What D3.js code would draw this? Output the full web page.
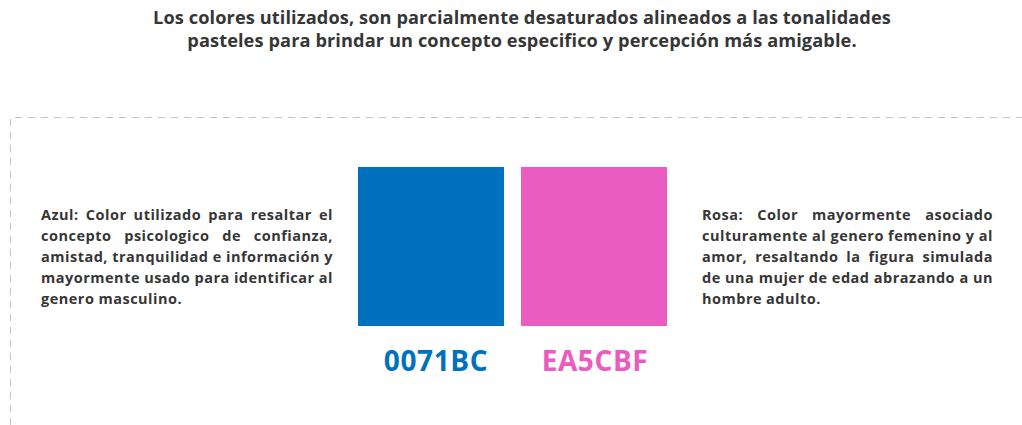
<!DOCTYPE html>
<html>
  <head>
    <meta charset="utf-8">
    <title>Colores utilizados</title>
    <script src="https://d3js.org/d3.v7.min.js"></script>
    <style>
      body { margin: 0; background: #fff; }
      text { font-family: "Open Sans", "Noto Sans", sans-serif; font-weight: 700; }
    </style>
  </head>
  <body>
    <div id="vis"></div>
    <script>
        const width = 1022;
        const height = 425;

        // texts and colours
        const titleLines = [
          "Los colores utilizados, son parcialmente desaturados alineados a las tonalidades",
          "pasteles para brindar un concepto especifico y percepción más amigable."
        ];
        const swatches = ["0071BC", "EA5CBF"];
        const leftLines = [
          "Azul:  Color utilizado para resaltar el",
          "concepto psicologico de confianza,",
          "amistad, tranquilidad e información y",
          "mayormente usado para identificar al",
          "genero masculino."
        ];
        const rightLines = [
          "Rosa: Color mayormente asociado",
          "culturamente al genero femenino y al",
          "amor, resaltando la figura simulada",
          "de una mujer de edad abrazando a un",
          "hombre adulto."
        ];

        const textColor = "#363636";

        let vis = d3.select("#vis")
                    .append("svg")
                    .attr("width", width)
                    .attr("height", height);

        // title
        vis.append("g")
           .selectAll("text")
           .data(titleLines)
           .enter()
           .append("text")
           .attr("x", 522)
           .attr("y", (d, i) => 24 + i * 23)
           .attr("text-anchor", "middle")
           .attr("font-size", 18.2)
           .attr("letter-spacing", 0.1)
           .attr("fill", textColor)
           .text(d => d);

        // dashed frame (top and left edges)
        vis.append("path")
           .attr("d", `M10.5,${height} V117.5 H${width}`)
           .attr("fill", "none")
           .attr("stroke", "#c4c4c4")
           .attr("stroke-width", 1)
           .attr("stroke-dasharray", "7,6");

        // swatches
        const x = d3.scaleBand()
                    .domain(swatches)
                    .range([358, 667])
                    .paddingInner(0.104);

        const y = d3.scaleLinear().domain([0, 1]).range([326, 167]);

        vis.append("g")
           .selectAll("rect")
           .data(swatches)
           .enter()
           .append("rect")
           .attr("x", d => x(d))
           .attr("y", y(1))
           .attr("width", x.bandwidth())
           .attr("height", y(0) - y(1))
           .attr("fill", d => "#" + d);

        vis.append("g")
           .selectAll("text")
           .data(swatches)
           .enter()
           .append("text")
           .attr("x", (d, i) => x(d) + x.bandwidth() / 2 + (i === 0 ? 5 : 1))
           .attr("y", 371)
           .attr("text-anchor", "middle")
           .attr("font-size", 28)
           .attr("letter-spacing", 0.6)
           .attr("fill", d => "#" + d)
           .text(d => d);

        // justified paragraph: every line but the last is spread to the full width
        function paragraph(lines, left, right, top) {
          const g = vis.append("g")
                       .attr("font-size", 14.5)
                       .attr("letter-spacing", 0.5)
                       .attr("fill", textColor);
          const lineHeight = 21;

          lines.forEach((line, i) => {
            const words = line.split(/\s+/);
            const t = g.append("text").attr("y", top + i * lineHeight);
            const spans = words.map(w => t.append("tspan").text(w));
            const widths = spans.map(s => s.node().getComputedTextLength());
            let gap = 4;
            if (i < lines.length - 1 && words.length > 1) {
              gap = (right - left - d3.sum(widths)) / (words.length - 1);
            }
            let cx = left;
            spans.forEach((s, k) => {
              s.attr("x", cx);
              cx += widths[k] + gap;
            });
          });
        }

        paragraph(leftLines, 41, 333, 220);
        paragraph(rightLines, 702, 993, 220);
    </script>
  </body>
</html>
